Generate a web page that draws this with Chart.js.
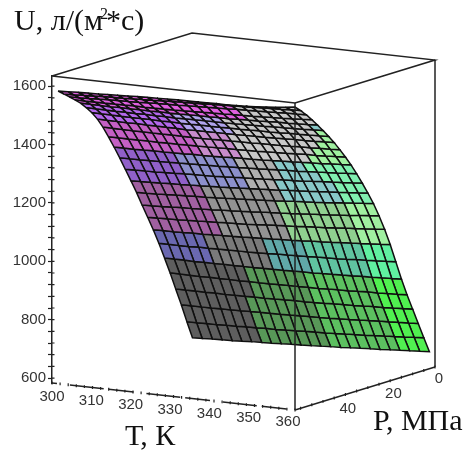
<!DOCTYPE html>
<html>
<head>
<meta charset="utf-8">
<title>U(T,P)</title>
<script src="https://cdn.jsdelivr.net/npm/chart.js@4/dist/chart.umd.min.js"></script>
<style>
	html,body{margin:0;padding:0;background:#fff}
	canvas{display:block;filter:blur(0.3px)}
</style>
</head>
<body>
<canvas id="surface" width="469" height="450"></canvas>
<script>
"use strict"
// values
const tempK=[301.5,303.9,306.4,308.8,311.3,313.7,316.1,318.6,321,323.4,325.9,328.3,330.8,333.2,335.6,338.1,340.5,342.9,345.4,347.8,350.3,352.7,355.1,357.6,360]
const pressMPa=[50,48,46,44,42,40,38,36,34,32,30,28,26,24,22,20,18,16,14,12,10,8,6,4,2]
const uGrid=[
	[1586,1587,1589,1590,1591,1593,1594,1595,1597,1598,1599,1600,1601,1601,1602,1602,1603,1603,1604,1605,1607,1610,1613,1617,1621],
	[1570,1571,1573,1574,1576,1577,1578,1580,1581,1582,1584,1585,1587,1588,1589,1591,1592,1593,1595,1596,1598,1599,1600,1602,1603],
	[1554,1555,1556,1558,1559,1560,1561,1562,1564,1565,1566,1567,1569,1570,1571,1572,1573,1575,1576,1577,1578,1579,1581,1582,1583],
	[1538,1538,1538,1538,1539,1539,1540,1539,1540,1540,1541,1542,1543,1544,1545,1546,1548,1549,1549,1551,1553,1554,1556,1558,1560],
	[1521,1521,1520,1520,1521,1520,1521,1520,1521,1521,1521,1522,1523,1523,1524,1524,1526,1527,1527,1529,1531,1531,1533,1534,1536],
	[1500,1499,1499,1498,1499,1498,1499,1498,1499,1498,1499,1499,1500,1500,1500,1501,1502,1503,1503,1505,1506,1507,1508,1510,1511],
	[1477,1476,1476,1475,1475,1475,1475,1474,1475,1474,1474,1475,1475,1475,1476,1476,1477,1478,1478,1479,1481,1481,1482,1484,1485],
	[1449,1448,1448,1447,1448,1447,1447,1447,1447,1446,1447,1447,1448,1448,1448,1449,1450,1450,1451,1452,1454,1454,1455,1457,1458],
	[1415,1415,1414,1414,1414,1414,1414,1414,1414,1414,1414,1415,1416,1416,1417,1417,1419,1419,1420,1421,1423,1423,1425,1426,1428],
	[1376,1376,1376,1376,1377,1376,1377,1377,1378,1378,1379,1380,1381,1381,1382,1383,1385,1386,1387,1389,1391,1391,1393,1395,1397],
	[1335,1335,1335,1336,1337,1337,1338,1338,1340,1340,1341,1342,1344,1345,1346,1347,1349,1351,1352,1354,1356,1357,1360,1362,1364],
	[1292,1293,1293,1294,1295,1296,1297,1298,1299,1300,1301,1303,1304,1306,1307,1309,1311,1313,1314,1317,1319,1321,1323,1326,1328],
	[1247,1248,1249,1249,1251,1252,1254,1255,1256,1257,1259,1261,1263,1264,1266,1268,1271,1272,1274,1277,1280,1282,1284,1287,1290],
	[1202,1203,1204,1205,1207,1208,1210,1211,1213,1214,1216,1218,1220,1222,1224,1226,1229,1231,1233,1236,1239,1241,1244,1247,1250],
	[1156,1157,1158,1160,1162,1163,1165,1166,1168,1170,1172,1174,1176,1178,1180,1183,1186,1188,1190,1193,1196,1199,1202,1205,1208],
	[1107,1108,1109,1111,1113,1114,1116,1117,1120,1121,1123,1125,1128,1130,1132,1134,1137,1140,1142,1145,1148,1150,1154,1157,1160],
	[1059,1060,1061,1062,1064,1065,1067,1068,1070,1071,1073,1075,1078,1080,1082,1084,1087,1089,1091,1094,1097,1099,1102,1105,1108],
	[1010,1011,1011,1012,1014,1014,1016,1017,1018,1019,1021,1022,1024,1026,1027,1029,1032,1033,1035,1038,1040,1042,1045,1047,1050],
	[958,958,958,958,960,960,961,961,962,962,963,964,966,967,968,969,971,972,973,975,978,979,981,983,985],
	[902,902,902,901,902,902,903,902,903,903,904,904,905,906,907,907,909,910,911,912,914,915,917,918,920],
	[845,845,844,844,845,844,845,844,845,845,845,846,847,847,848,848,850,851,851,853,855,855,857,858,860],
	[784,784,784,784,785,784,785,785,786,786,787,788,789,789,790,791,793,794,795,797,799,799,801,803,805],
	[724,724,724,724,725,725,726,727,728,728,729,730,731,732,733,734,736,737,739,741,743,744,746,748,750],
	[660,660,661,661,663,663,665,665,667,667,669,670,672,673,674,676,678,680,681,684,686,688,690,693,695],
	[599,600,602,603,604,606,608,609,610,612,614,615,617,619,621,622,625,627,629,630,633,635,637,639,641]
]
const uTicks=[600,640,680,720,760,800,840,880,920,960,1000,1040,1080,1120,1160,1200,1240,1280,1320,1360,1400,1440,1480,1520,1560,1600]
const tTicks=[300,302,304,306,308,310,312,314,316,318,320,322,324,326,328,330,332,334,336,338,340,342,344,346,348,350,352,354,356,358,360]
const pTicks=[0,4,8,12,16,20,24,28,32,36,40,44,48]
const tLabels=[300,310,320,330,340,350,360]
const pLabels=[0,20,40]

// patch colours, one letter per mesh cell
const palette={
	a:'#e060e0',b:'#b468ec',c:'#c460c4',d:'#c88ccc',e:'#b0a4ec',f:'#9060c8',g:'#8c90cc',
	h:'#a060a0',k:'#6a68b0',l:'#5e5e5e',m:'#7a7a7a',n:'#939393',o:'#b0b0b0',p:'#c8c8c8',
	q:'#a0f0a0',r:'#80f0b0',s:'#88c8c8',t:'#90d090',u:'#60a8a8',v:'#60f0a0',w:'#60c4a0',
	x:'#5cc060',y:'#589858',z:'#50f050'
}
const cellMap=[
	'aaaaaaaaaaaaaaaaappppppp',
	'aaaaaaaaaaaaaaaaappppppp',
	'aaaaaaaaaaaaaaaaappppppp',
	'aaaaaaaaaaaaaaaaappppppp',
	'bbbbbbbbbeeeeeppppppppps',
	'bbbbbbbbbeeeeepppppppppq',
	'bbbbbbbbbeeeeepppppppppq',
	'cccccccccddddpppppppppqq',
	'cccccccccddddppppppppqqq',
	'cccccccccddddpppppppqqqq',
	'ffffffggggggoooosssrrrrr',
	'ffffffggggggoooossssrrrr',
	'ffffffggggggooossssssrrr',
	'hhhhhhhnnnnnnnnssssssrrr',
	'hhhhhhhnnnnnnntttttttqqq',
	'hhhhhhhnnnnnnntttttttqqq',
	'hhhhhhhnnnnnnntttttttqqq',
	'kkkkkmmmmmmuuuuwwwwwwvvv',
	'kkkkkmmmmmmuuuuwwwwwwvvv',
	'llllllllyyyyyyxxxxxxxzzz',
	'llllllllyyyyyyxxxxxxxzzz',
	'lllllllyyyyyyyxxxxxxxzzz',
	'lllllllyyyyyyyxxxxxxxzzz',
	'lllllllyyyyyyyxxxxxxxzzz'
]

const U_MIN=583, U_MAX=1635
const lineColor='#222'

// T,P,U -> chart values, a fixed oblique view of the box
const project=(T,P,U)=>{
	let t=(T-300)/60, q=(50-P)/50
	return {x:243*t+140*q, y:U-92.5*t+147.4*q}
}
const line=(pts,opts)=>Object.assign({
	data:pts,showLine:true,pointRadius:0,borderColor:lineColor,borderWidth:1.5,fill:false,clip:false,tension:0
},opts||{})

let datasets=[]
// front edge sits on top of the surface
datasets.push(line([project(360,50,U_MIN),project(360,50,U_MAX)]))
// tick marks
let marks=[]
tTicks.forEach(v=>{
	marks.push(project(v,50,U_MIN-5),project(v,50,U_MIN+5),{x:NaN,y:NaN})
})
pTicks.forEach(v=>{
	marks.push(project(360,v,U_MIN-5),project(360,v,U_MIN+5),{x:NaN,y:NaN})
})
uTicks.forEach(v=>{
	marks.push({x:0,y:v},{x:2.5,y:v},{x:NaN,y:NaN})
})
datasets.push(line(marks,{borderWidth:1.2}))
// mesh
for(let j=0;j<pressMPa.length-1;j++){
	for(let i=0;i<tempK.length-1;i++){
		datasets.push(line([
			project(tempK[i],pressMPa[j],uGrid[j][i]),
			project(tempK[i+1],pressMPa[j],uGrid[j][i+1]),
			project(tempK[i+1],pressMPa[j+1],uGrid[j+1][i+1]),
			project(tempK[i],pressMPa[j+1],uGrid[j+1][i]),
			project(tempK[i],pressMPa[j],uGrid[j][i])
		],{fill:'shape',backgroundColor:palette[cellMap[j][i]],borderColor:'#101010',borderWidth:1.5}))
	}
}
// box
datasets.push(line([project(300,50,U_MAX),project(300,0,U_MAX),project(360,0,U_MAX),project(360,50,U_MAX),project(300,50,U_MAX)]))
datasets.push(line([project(360,0,U_MIN),project(360,0,U_MAX)]))
datasets.push(line([project(360,50,U_MIN),project(360,0,U_MIN)]))
datasets.push(line([project(300,50,U_MIN),project(360,50,U_MIN)],{borderDash:[34,5,25,13],borderDashOffset:59}))

// T and P tick labels, axis titles
const axisText={
	id:'axisText',
	afterDatasetsDraw(chart){
		let c=chart.ctx, sx=chart.scales.x, sy=chart.scales.y
		let px=p=>[sx.getPixelForValue(p.x),sy.getPixelForValue(p.y)]
		c.save()
		c.fillStyle='#333'
		c.font='15px "Liberation Sans"'
		c.textAlign='center'
		c.textBaseline='middle'
		tLabels.forEach(v=>{
			let a=px(project(v,50,U_MIN)), t=(v-300)/60
			c.fillText(v,a[0]-7*t,a[1]+14-2*t)
		})
		pLabels.forEach(v=>{
			let a=px(project(360,v,U_MIN)), q=(50-v)/50
			c.fillText(v,a[0]+30-26*q,a[1]+6.5+5.5*q)
		})
		c.fillStyle='#111'
		c.textAlign='left'
		c.textBaseline='alphabetic'
		c.font='30px "Liberation Serif"'
		let head='U, л/(м'
		c.fillText(head,14,30)
		let hx=14+c.measureText(head).width
		c.fillText('*с)',hx+3,30)
		c.font='16px "Liberation Serif"'
		c.fillText('2',hx-3,19)
		c.font='30px "Liberation Serif"'
		c.fillText('Т, К',125,445)
		c.fillText('Р, МПа',373,430)
		c.restore()
	}
}

new Chart(document.getElementById('surface'),{
	type:'scatter',
	data:{datasets},
	plugins:[axisText],
	options:{
		responsive:false,
		animation:false,
		events:[],
		layout:{padding:{left:0,right:17,top:76,bottom:67}},
		plugins:{legend:{display:false},tooltip:{enabled:false},title:{display:false}},
		scales:{
			x:{type:'linear',display:false,min:0,max:400},
			y:{
				type:'linear',
				min:U_MIN,
				max:U_MAX,
				afterFit(s){s.width=52},
				afterBuildTicks(s){s.ticks=uTicks.map(v=>({value:v}))},
				border:{color:lineColor,width:1.5},
				grid:{drawOnChartArea:false,tickLength:4,tickColor:lineColor,tickWidth:1.2},
				ticks:{
					autoSkip:false,
					maxRotation:0,
					padding:2,
					color:'#333',
					font:{family:'"Liberation Sans"',size:15},
					callback:v=>v%200===0?v:''
				}
			}
		}
	}
})
</script>
</body>
</html>
